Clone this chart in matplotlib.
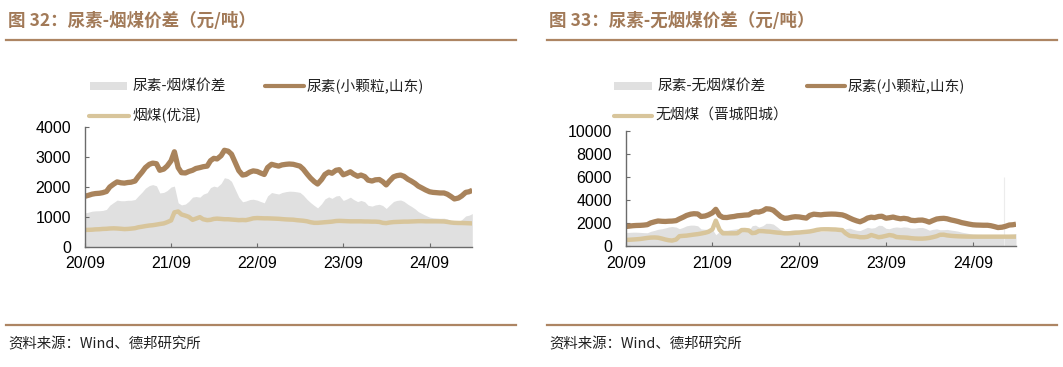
import matplotlib
matplotlib.use('Agg')
import matplotlib.pyplot as plt
from matplotlib.lines import Line2D
from matplotlib.patches import Rectangle
import numpy as np
import pandas as pd

plt.rcParams['font.family'] = ['Noto Sans CJK SC', 'DejaVu Sans']

# semi-monthly observations, 2020-09-01 .. 2025-03-01
dates = pd.date_range('2020-09-01', periods=109, freq='SMS')

# 尿素(小颗粒,山东)
urea = [1690, 1720, 1760, 1780, 1790, 1810, 1850, 2000, 2100, 2170,
        2140, 2130, 2150, 2160, 2200, 2350, 2500, 2650, 2760, 2800,
        2780, 2560, 2600, 2700, 2880, 3180, 2650, 2480, 2470, 2520,
        2560, 2620, 2650, 2680, 2700, 2880, 2960, 2940, 3050, 3230,
        3200, 3100, 2800, 2550, 2400, 2420, 2500, 2540, 2520, 2470,
        2420, 2650, 2760, 2730, 2700, 2740, 2760, 2770, 2760, 2730,
        2700, 2600, 2430, 2300, 2180, 2100, 2250, 2420, 2500, 2460,
        2560, 2580, 2410, 2450, 2510, 2430, 2360, 2400, 2350, 2230,
        2200, 2240, 2250, 2180, 2070, 2200, 2340, 2380, 2400, 2360,
        2260, 2200, 2120, 2030, 1960, 1900, 1840, 1820, 1810, 1800,
        1800, 1760, 1680, 1600, 1630, 1700, 1820, 1840, 1890]

# 烟煤(优混)
coal = [560, 565, 570, 580, 585, 595, 600, 610, 615, 610,
        600, 590, 595, 605, 620, 650, 670, 690, 710, 720,
        740, 760, 780, 820, 880, 1150, 1180, 1080, 1040, 1000,
        900, 940, 990, 920, 890, 900, 930, 940, 930, 920,
        920, 910, 900, 890, 895, 890, 920, 950, 960, 955,
        950, 950, 945, 940, 935, 925, 915, 910, 905, 890,
        880, 870, 850, 820, 800, 800, 810, 820, 830, 840,
        860, 865, 860, 855, 850, 850, 850, 850, 845, 845,
        840, 840, 830, 800, 790, 810, 825, 830, 835, 840,
        840, 845, 850, 855, 855, 850, 850, 850, 850, 848,
        845, 830, 810, 800, 795, 795, 790, 785, 780]

# 无烟煤（晋城阳城）
anthracite = [520, 540, 560, 580, 610, 650, 700, 730, 740, 720,
              640, 560, 500, 470, 560, 850, 880, 900, 950, 990,
              1030, 1080, 1150, 1230, 1450, 2200, 1400, 1100, 1100, 1100,
              1100, 1110, 1380, 1390, 1350, 1120, 1150, 1300, 1290, 1260,
              1240, 1200, 1160, 1140, 1100, 1100, 1120, 1150, 1170, 1200,
              1230, 1260, 1330, 1400, 1440, 1450, 1450, 1440, 1430, 1400,
              1380, 1100, 880, 850, 820, 760, 760, 800, 950, 870,
              760, 800, 880, 950, 900, 780, 750, 740, 720, 680,
              650, 640, 640, 660, 700, 760, 850, 970, 980, 920,
              880, 860, 840, 830, 820, 815, 810, 810, 810, 810,
              810, 810, 810, 810, 810, 810, 810, 810, 810]

# one-day outlier in the anthracite spread
spike_dates = ['2025-01-10']
spike_vals = [6000]

year_ticks = ['2020-09-01', '2021-09-01', '2022-09-01', '2023-09-01', '2024-09-01']
year_labels = ['20/09', '21/09', '22/09', '23/09', '24/09']

BROWN = '#a9835b'
TAN = '#d8c59b'
GRAY = '#e0e0e0'
TITLE_C = '#a27a58'
RULE_C = '#ad8563'

W, H = 1063, 367
fig = plt.figure(figsize=(W / 100, H / 100), dpi=100)


def fx(px):
    return px / W


def fy(py):
    return 1 - py / H


def header(x0, x1, title):
    fig.text(fx(x0 + 2), fy(21), title, fontsize=12.6, fontweight='bold',
             color=TITLE_C, va='center', ha='left')
    fig.add_artist(Line2D([fx(x0), fx(x1)], [fy(40), fy(40)], color=RULE_C, lw=1.6))
    fig.add_artist(Line2D([fx(x0), fx(x1)], [fy(325), fy(325)], color=RULE_C, lw=1.6))
    fig.text(fx(x0 + 2), fy(344), '资料来源：Wind、德邦研究所', fontsize=10.4,
             color='#222222', va='center', ha='left')


def legend_patch(x0, x1, y, label):
    fig.add_artist(Rectangle((fx(x0), fy(y + 4)), fx(x1 - x0), (8 / H),
                             color=GRAY, lw=0, transform=fig.transFigure))
    fig.text(fx(x1 + 6), fy(y), label, fontsize=10.6, va='center', ha='left', color='#222222')


def legend_line(x0, x1, y, color, label):
    fig.add_artist(Line2D([fx(x0), fx(x1)], [fy(y), fy(y)], color=color, lw=3,
                          solid_capstyle='round'))
    fig.text(fx(x1 + 3), fy(y), label, fontsize=10.6, va='center', ha='left', color='#222222')


def style_axis(ax, ymax, ystep):
    ax.set_xlim(pd.Timestamp('2020-09-01'), pd.Timestamp('2025-03-01'))
    ax.set_ylim(0, ymax)
    ax.set_yticks(np.arange(0, ymax + 1, ystep))
    ax.set_xticks(pd.to_datetime(year_ticks))
    ax.set_xticklabels(year_labels)
    for s in ['top', 'right']:
        ax.spines[s].set_visible(False)
    for s in ['left', 'bottom']:
        ax.spines[s].set_color('#6b6b6b')
        ax.spines[s].set_linewidth(1.0)
    ax.tick_params(direction='in', length=3, color='#6b6b6b', labelsize=11.5, pad=10)
    ax.tick_params(axis='x', pad=7)
    for lab in ax.get_xticklabels() + ax.get_yticklabels():
        lab.set_family('Liberation Sans')
    ax.set_facecolor('none')


urea_a = np.array(urea)
coal_a = np.array(coal)
anth_a = np.array(anthracite)

# left panel: urea vs bituminous coal
header(6, 516, '图 32：尿素-烟煤价差（元/吨）')
ax1 = fig.add_axes([fx(85), fy(246.7), fx(472.3 - 85), (246.7 - 127.3) / H])
ax1.fill_between(dates, 0, urea_a - coal_a, color=GRAY, lw=0)
ax1.plot(dates, urea_a, color=BROWN, lw=3.8, solid_capstyle='butt')
ax1.plot(dates, coal_a, color=TAN, lw=3.2, solid_capstyle='butt')
style_axis(ax1, 4000, 1000)
legend_patch(90, 127, 86, '尿素-烟煤价差')
legend_line(265, 304, 86, BROWN, '尿素(小颗粒,山东)')
legend_line(89, 129, 116, TAN, '烟煤(优混)')

# right panel: urea vs anthracite
header(547, 1057, '图 33：尿素-无烟煤价差（元/吨）')
ax2 = fig.add_axes([fx(625.7), fy(246), fx(1016 - 625.7), (246 - 130.7) / H])
ax2.fill_between(dates, 0, urea_a - anth_a, color=GRAY, lw=0)
ax2.vlines(pd.to_datetime(spike_dates), 0, spike_vals, color='#ececec', lw=0.8)
ax2.plot(dates, urea_a, color=BROWN, lw=3.8, solid_capstyle='butt')
ax2.plot(dates, anth_a, color=TAN, lw=3.2, solid_capstyle='butt')
style_axis(ax2, 10000, 2000)
legend_patch(614, 652, 86, '尿素-无烟煤价差')
legend_line(807, 845, 86, BROWN, '尿素(小颗粒,山东)')
legend_line(614, 652, 116, TAN, '无烟煤（晋城阳城）')

fig.savefig('out.png', dpi=100)
